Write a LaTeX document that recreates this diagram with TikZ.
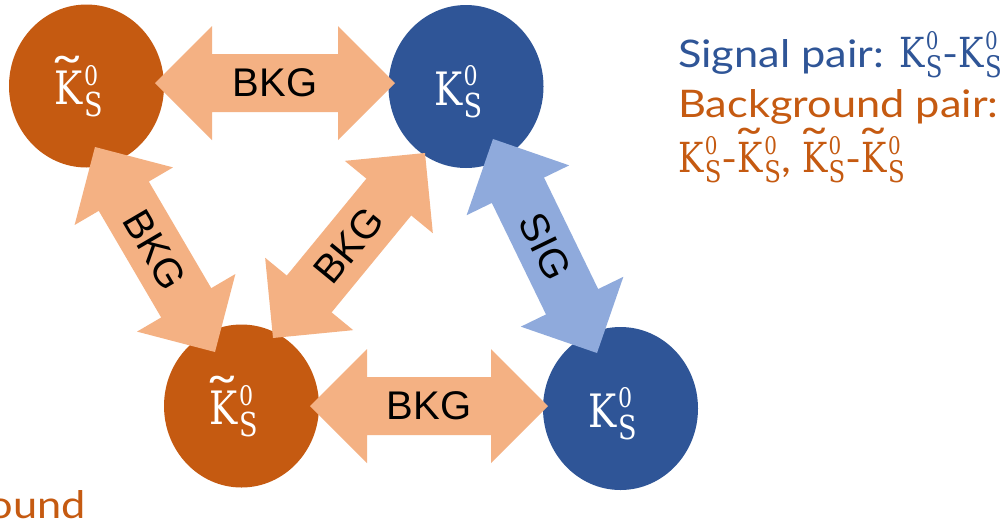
\documentclass[tikz,border=0pt]{standalone}
\usepackage{graphicx}
\usepackage{fontspec}
\newfontfamily\lato[FakeStretch=1.14]{Lato}
\newfontfamily\arialf{Liberation Sans}
\newfontfamily\kfont[FakeStretch=0.82]{DejaVu Serif}
\usetikzlibrary{calc,shapes.geometric}
\definecolor{korange}{HTML}{C55A11}
\definecolor{kblue}{HTML}{2F5597}
\definecolor{lorange}{HTML}{F4B183}
\definecolor{lblue}{HTML}{8FAADC}
% wide tilde over K
\newcommand\tK{\rlap{\kern-0.12em\raisebox{0.2em}{\scalebox{2.0}[1.1]{\char"02DC}}}K}
% K^0_S built from text glyphs: #1 scale, #2 letter (K or \tK)
\newcommand\KSc[2]{%
  {\kfont\fontsize{\fpeval{46*#1}}{\fpeval{52*#1}}\selectfont #2}%
  \kern\fpeval{1.5*#1}pt%
  \rlap{\raisebox{\fpeval{19.5*#1}pt}{\kfont\fontsize{\fpeval{27*#1}}{\fpeval{30*#1}}\selectfont 0}}%
  \raisebox{\fpeval{-12*#1}pt}{\kfont\fontsize{\fpeval{33*#1}}{\fpeval{36*#1}}\selectfont S}}
\newcommand\ballbl[1]{\smash{\makebox[0pt][l]{\hspace{-32pt}\raisebox{-18.5pt}{\KSc{1}{#1}}}}}
\newcommand\fatarrow[4]{%
  \fill[#3] (#1) -- ($(#1)!80.61pt!45:(#2)$) -- ($(#1)!57pt!(#2)!29pt!90:(#2)$)
    -- ($(#2)!57pt!(#1)!29pt!-90:(#1)$) -- ($(#2)!80.61pt!-45:(#1)$) -- (#2)
    -- ($(#2)!80.61pt!45:(#1)$) -- ($(#2)!57pt!(#1)!29pt!90:(#1)$)
    -- ($(#1)!57pt!(#2)!29pt!-90:(#2)$) -- ($(#1)!80.61pt!-45:(#2)$) -- cycle;
  \path (#1) -- (#2) node[midway, sloped, arrowlbl] {#4};%
}
\tikzset{
  ball/.style={ellipse, minimum width=155pt, minimum height=163pt, inner sep=0pt,
    text=white},
  orangeball/.style={ball, fill=korange},
  blueball/.style={ball, fill=kblue},
  arrowlbl/.style={font=\arialf\fontsize{40}{46}\selectfont, text=black, inner sep=0pt},
  legend/.style={anchor=base west, inner sep=0pt, font=\lato\fontsize{38}{44}\selectfont},
}
\begin{document}
\begin{tikzpicture}[x=1pt, y=-1pt]
\useasboundingbox (0,0) rectangle (1004,531);
\fill[white] (0,0) rectangle (1004,531);
% particles
\node[orangeball] (tl) at (86.5,86) {\ballbl{\tK}};
\node[blueball] (tr) at (466,86.5) {\ballbl{K}};
\node[orangeball] (bl) at (241.5,406) {\ballbl{\tK}};
\node[blueball] (br) at (620.5,408.5) {\ballbl{K}};
% arrow tips
\coordinate (a1) at (155,83);
\coordinate (a2) at (395,83);
\coordinate (b1) at (310,406);
\coordinate (b2) at (548,406);
\coordinate (c1) at (95,147);
\coordinate (c2) at (215,352);
\coordinate (d1) at (425,153);
\coordinate (d2) at (273,338);
\coordinate (e1) at (493,139);
\coordinate (e2) at (597,353);
\fatarrow{a1}{a2}{lorange}{BKG}
\fatarrow{b1}{b2}{lorange}{BKG}
\fatarrow{c1}{c2}{lorange}{BKG}
\fatarrow{d1}{d2}{lorange}{BKG}
\fatarrow{e1}{e2}{lblue}{SIG}
% legend
\node[legend, text=kblue] (l1) at (678,67) {Signal pair: \KSc{0.9}{K}-\KSc{0.9}{K}};
\node[legend, text=korange] (l2) at (678,117) {Background pair:};
\node[legend, text=korange] (l3) at (678,172) {\KSc{0.9}{K}-\KSc{0.9}{\tK}, \KSc{0.9}{\tK}-\KSc{0.9}{\tK}};
\node[legend, text=korange, anchor=base east] (l4) at (86,518) {ound};
\end{tikzpicture}
\end{document}
